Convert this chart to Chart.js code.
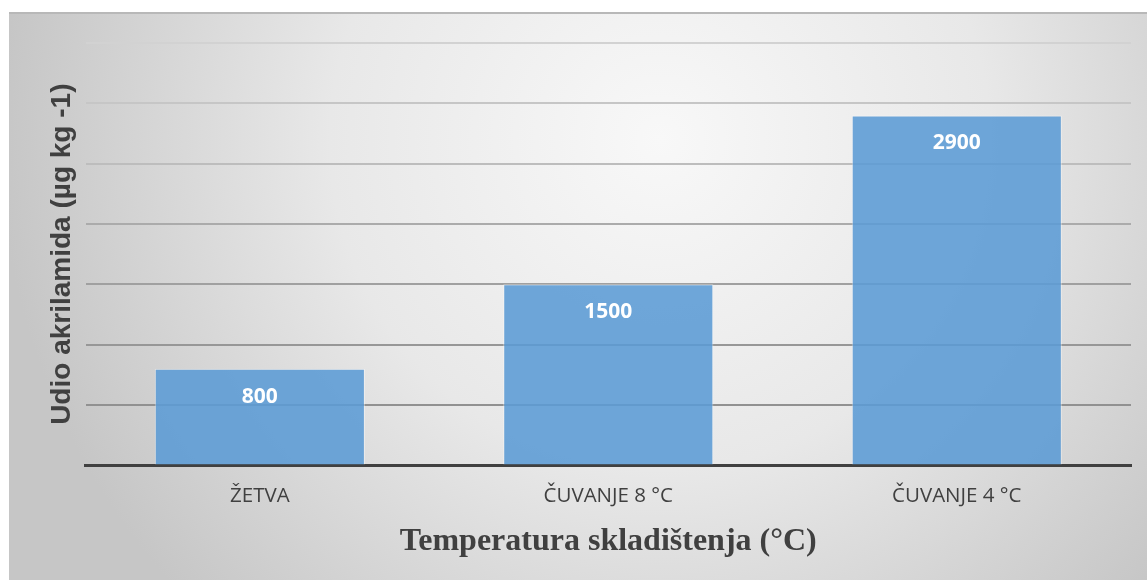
<!DOCTYPE html>
<html>
<head>
<meta charset="utf-8">
<script src="https://cdn.jsdelivr.net/npm/chart.js@4"></script>
<style>
  html, body { margin: 0; padding: 0; background: #ffffff; }
  #wrap { width: 1147px; height: 580px; }
</style>
</head>
<body>
<div id="wrap"><canvas id="chart" width="1147" height="580"></canvas></div>
<script>
// Data
const categories = ['ŽETVA', 'ČUVANJE 8 °C', 'ČUVANJE 4 °C'];
const values = [800, 1500, 2900];
const yMax = 3500;
const yStep = 500;
const yTitle = 'Udio akrilamida (µg kg -1)';
const xTitle = 'Temperatura skladištenja (°C)';

// grey panel with a soft radial shade, like the office chart area
const panelBackground = {
    id: 'panelBackground',
    beforeDraw(chart) {
        const ctx = chart.ctx;
        const w = chart.width, h = chart.height;
        ctx.save();
        ctx.fillStyle = '#ffffff';
        ctx.fillRect(0, 0, w, h);
        const g = ctx.createRadialGradient(660, 140, 0, 660, 140, 660);
        g.addColorStop(0, '#f8f8f8');
        g.addColorStop(0.5, '#e8e8e8');
        g.addColorStop(1, '#c6c6c6');
        ctx.fillStyle = g;
        ctx.fillRect(9, 12, w - 9, h - 12);
        ctx.fillStyle = '#b8b8b8';
        ctx.fillRect(9, 12, w - 9, 2);
        ctx.restore();
    }
};

// value labels inside the top of each bar
const barLabels = {
    id: 'barLabels',
    afterDatasetsDraw(chart) {
        const ctx = chart.ctx;
        const meta = chart.getDatasetMeta(0);
        ctx.save();
        ctx.fillStyle = '#ffffff';
        ctx.font = 'bold 21px "Open Sans", sans-serif';
        ctx.textAlign = 'center';
        ctx.textBaseline = 'middle';
        meta.data.forEach((bar, i) => {
            ctx.fillText(String(values[i]), bar.x, bar.y + 28);
        });
        ctx.restore();
    }
};

const gridColors = {
    3500: '#d2d2d2', 3000: '#c6c6c6', 2500: '#bdbdbd', 2000: '#ababab',
    1500: '#a0a0a0', 1000: '#979797', 500: '#919191', 0: '#404040'
};

new Chart(document.getElementById('chart'), {
    type: 'bar',
    data: {
        labels: categories,
        datasets: [{
            data: values,
            backgroundColor: 'rgba(91, 155, 213, 0.88)',
            borderColor: 'rgba(255, 255, 255, 0.45)',
            borderWidth: 1,
            categoryPercentage: 1,
            barPercentage: 0.603
        }]
    },
    options: {
        responsive: false,
        animation: false,
        layout: { padding: { left: 45, right: 16, top: 43, bottom: 0 } },
        plugins: {
            legend: { display: false },
            tooltip: { enabled: false }
        },
        scales: {
            x: {
                grid: { display: false, drawTicks: false },
                border: { display: true, color: '#404040', width: 3 },
                ticks: {
                    color: '#404040',
                    padding: 18,
                    font: { family: '"Open Sans", sans-serif', size: 20.5, lineHeight: 1.2 }
                },
                title: {
                    display: true,
                    text: xTitle,
                    color: '#404040',
                    padding: { top: 0, bottom: 22 },
                    font: { family: '"Liberation Serif", "Times New Roman", serif', size: 32, weight: 'bold', lineHeight: 1.0 }
                }
            },
            y: {
                min: 0,
                max: yMax,
                ticks: { display: false, stepSize: yStep },
                grid: {
                    drawTicks: false,
                    lineWidth: 2,
                    color: (c) => gridColors[c.tick.value] || '#aaaaaa'
                },
                border: { display: false },
                title: {
                    display: true,
                    text: yTitle,
                    color: '#404040',
                    padding: { top: 0, bottom: 7 },
                    font: { family: '"Liberation Sans", Arial, sans-serif', size: 28, weight: 'bold' }
                }
            }
        }
    },
    plugins: [panelBackground, barLabels]
});
</script>
</body>
</html>
